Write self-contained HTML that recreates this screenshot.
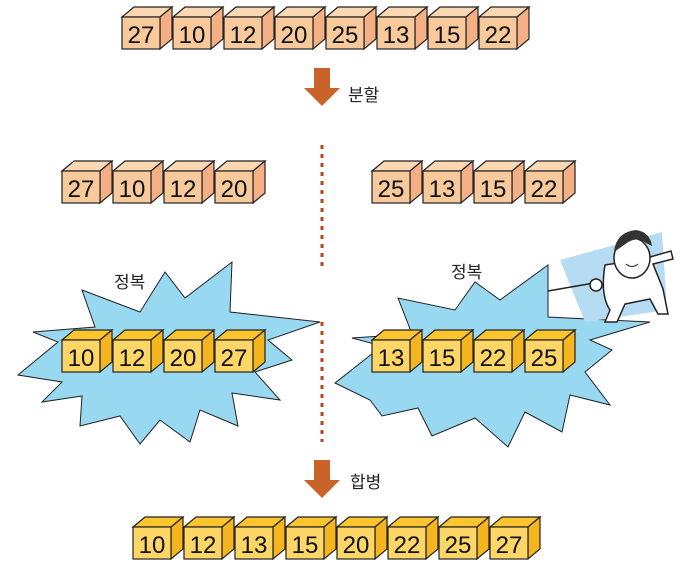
<!DOCTYPE html>
<html><head><meta charset="utf-8"><style>
body{margin:0;background:#fff}
svg{display:block}
text{font-family:"Liberation Sans","Noto Sans CJK KR",sans-serif}
</style></head><body>
<svg id="s" width="700" height="576" viewBox="0 0 700 576">
<polygon fill="#98d8f0" stroke="#222" stroke-width="1" points="18,375 58,342 33,332 95,327 82,290 140,312 165,272 185,298 232,262 230,312 320,322 268,340 292,360 255,372 280,400 232,393 238,426 200,410 190,442 160,420 140,444 120,416 80,426 82,396 42,402 62,382"/>
<polygon fill="#98d8f0" stroke="#222" stroke-width="1" points="335,383 382,346 352,338 412,334 398,298 455,310 475,282 500,300 548,265 548,317 650,322 590,340 612,350 585,372 610,405 570,395 562,432 525,412 508,447 475,418 432,436 418,408 382,416 370,400"/>
<g>
<polygon points="560,260 662,232 667,310 585,322" fill="#b6dcf3"/>
<line x1="548" y1="291" x2="594" y2="283" stroke="#222" stroke-width="1.5"/>
<circle cx="596" cy="285" r="6" fill="#fff" stroke="#222" stroke-width="1.5"/>
<path d="M605,265 q-5,30 5,45 l-5,12 h12 l8,-18 l25,-5 l8,15 h10 l-5,-25 l-10,-25 l20,-5 l-2,-8 l-28,8 z" fill="#fff" stroke="#222" stroke-width="1.5"/>
<ellipse cx="632" cy="258" rx="18" ry="20" fill="#fff" stroke="#222" stroke-width="1.5"/>
<path d="M614,252 q2,-20 22,-22 q14,2 16,16 l-6,-3 q-10,-8 -22,2 z" fill="#333"/>
<path d="M626,264 q6,5 12,0" stroke="#222" fill="none"/>
</g>
<g><rect x="314" y="68" width="16" height="22" fill="#c8632a"/><polygon points="304,88 340,88 322,106" fill="#c8632a"/></g>
<text x="348" y="101" font-size="17" fill="#222">분할</text>
<line x1="322" y1="145" x2="322" y2="266" stroke="#b04a1a" stroke-width="3" stroke-dasharray="4,5"/>
<line x1="322" y1="322" x2="322" y2="442" stroke="#b04a1a" stroke-width="3" stroke-dasharray="4,5"/>
<g><rect x="314" y="460" width="16" height="22" fill="#c8632a"/><polygon points="304,480 340,480 322,498" fill="#c8632a"/></g>
<text x="350" y="488" font-size="17" fill="#222">합병</text>
<text x="114" y="288" font-size="17" fill="#222">정복</text>
<text x="451" y="278" font-size="17" fill="#222">정복</text>
</svg>
<script>
const inputValues=[27,10,12,20,25,13,15,22];
const leftHalf=[27,10,12,20];
const rightHalf=[25,13,15,22];
const leftSorted=[10,12,20,27];
const rightSorted=[13,15,22,25];
const mergedValues=[10,12,13,15,20,22,25,27];
const NS="http://www.w3.org/2000/svg";
const svg=document.getElementById('s');
const orange={f:"#f8c99a",s:"#f4b084",t:"#fbd8b4"};
const yellow={f:"#fdd666",s:"#f5b51e",t:"#fac52e"};
function box(x,y,v,c,name){
  const g=document.createElementNS(NS,'g');
  
  
  const w=38,h=32,dx=12,dy=10;
  const top=`${x},${y} ${x+dx},${y-dy} ${x+w+dx},${y-dy} ${x+w},${y}`;
  const side=`${x+w},${y} ${x+w+dx},${y-dy} ${x+w+dx},${y+h-dy} ${x+w},${y+h}`;
  g.innerHTML=`<polygon points="${top}" fill="${c.t}" stroke="#222" stroke-width="1.2"/><polygon points="${side}" fill="${c.s}" stroke="#222" stroke-width="1.2"/><rect x="${x}" y="${y}" width="${w}" height="${h}" fill="${c.f}" stroke="#222" stroke-width="1.2"/><text x="${x+w/2}" y="${y+h-6}" font-size="24" text-anchor="middle" fill="#111">${v}</text>`;
  svg.appendChild(g);
}
function row(vals,x0,y,c,prefix){vals.forEach((v,i)=>box(x0+i*51,y,v,c,prefix+'-'+v));}
row(inputValues,122,17,orange,'input-box');
row(leftHalf,62,171,orange,'left-half-box');
row(rightHalf,372,171,orange,'right-half-box');
row(leftSorted,62,340,yellow,'left-sorted-box');
row(rightSorted,372,340,yellow,'right-sorted-box');
row(mergedValues,133,527,yellow,'merged-box');
</script>
</body></html>
